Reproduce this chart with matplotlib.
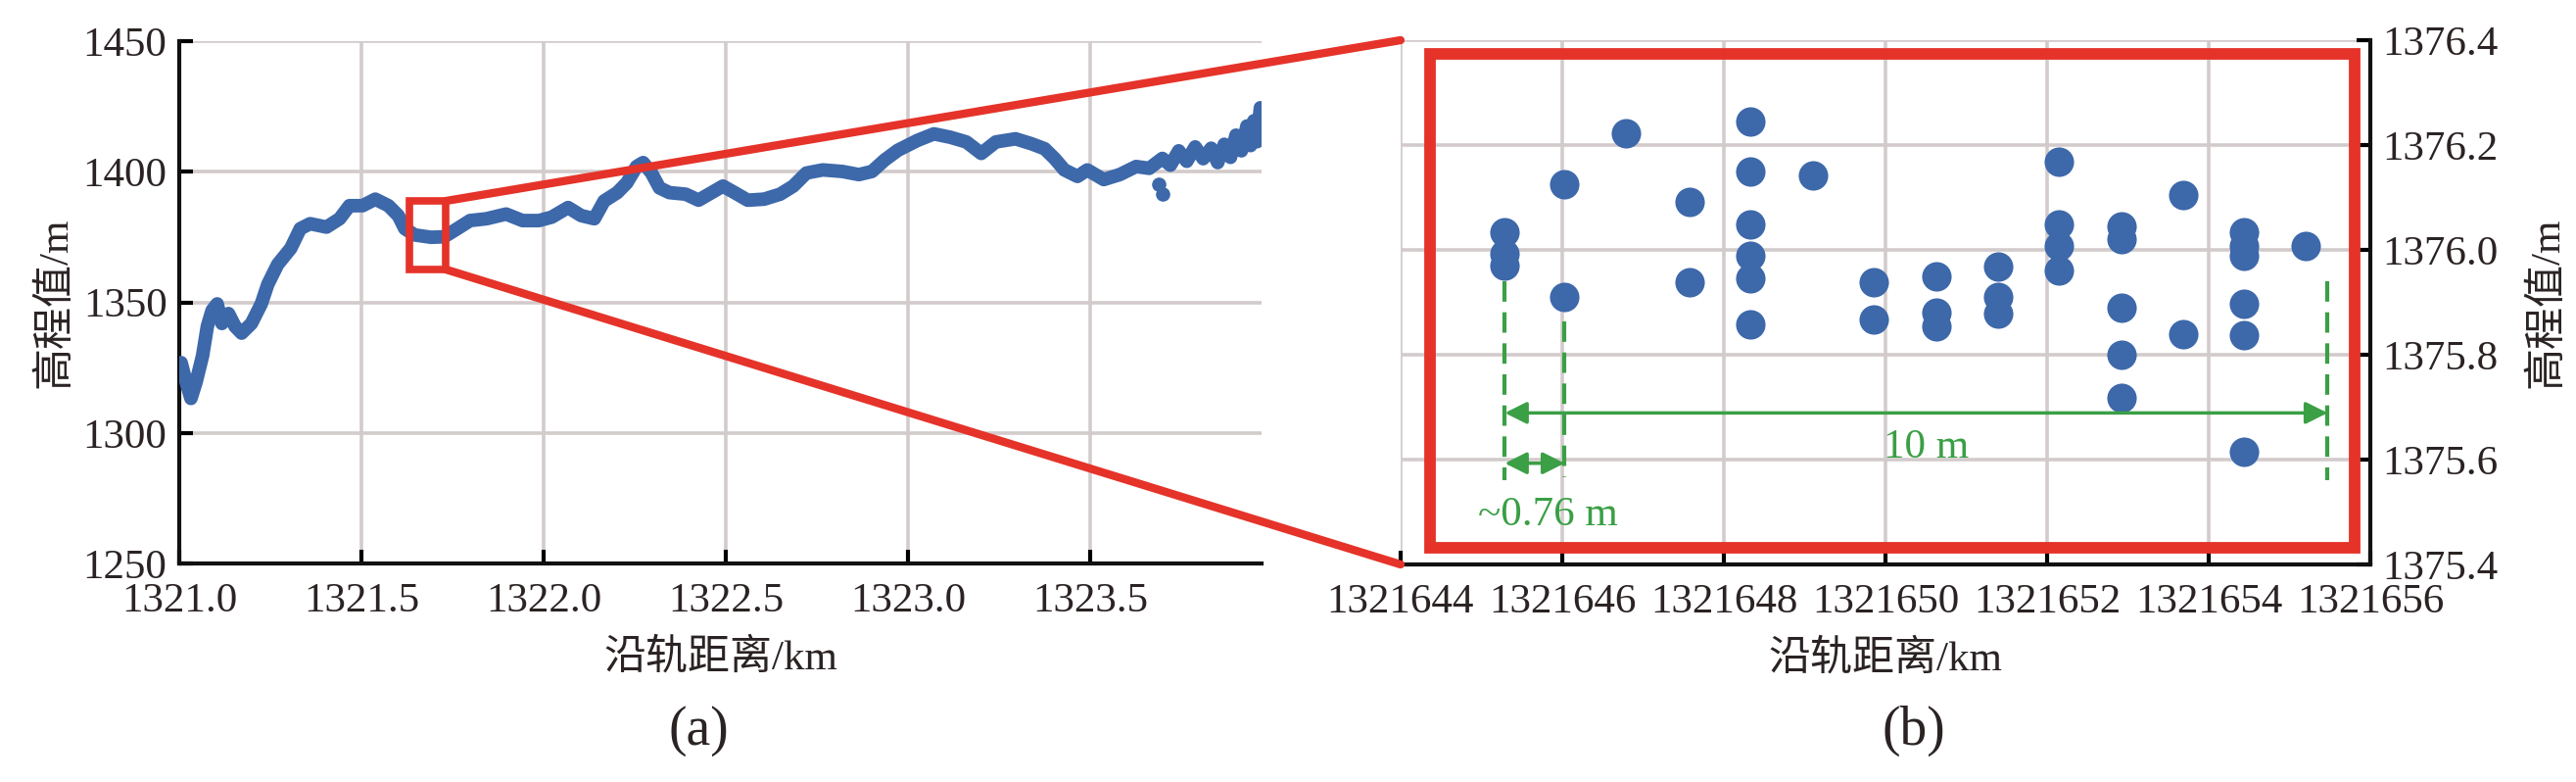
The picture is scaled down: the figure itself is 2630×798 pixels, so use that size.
import matplotlib
matplotlib.use("Agg")
import matplotlib.pyplot as plt
from matplotlib.patches import Rectangle, ConnectionPatch
from matplotlib.ticker import FormatStrFormatter

# ── Data ────────────────────────────────────────────────────────────────────────
# (a) along-track profile
dist_km = [
    1321.005, 1321.019, 1321.032, 1321.046, 1321.064, 1321.077, 1321.090, 1321.104, 1321.117, 1321.135,
    1321.153, 1321.171, 1321.198, 1321.225, 1321.243, 1321.270, 1321.306, 1321.332, 1321.359, 1321.404,
    1321.440, 1321.467, 1321.503, 1321.538, 1321.574, 1321.601, 1321.619, 1321.646, 1321.691, 1321.727,
    1321.763, 1321.798, 1321.843, 1321.897, 1321.942, 1321.987, 1322.022, 1322.067, 1322.103, 1322.139,
    1322.166, 1322.202, 1322.228, 1322.255, 1322.273, 1322.296, 1322.318, 1322.345, 1322.390, 1322.425,
    1322.461, 1322.492, 1322.524, 1322.560, 1322.605, 1322.649, 1322.685, 1322.721, 1322.766, 1322.820,
    1322.865, 1322.901, 1322.936, 1322.972, 1322.999, 1323.026, 1323.071, 1323.116, 1323.160, 1323.201,
    1323.241, 1323.295, 1323.339, 1323.375, 1323.402, 1323.429, 1323.465, 1323.492, 1323.537, 1323.581,
    1323.626, 1323.662, 1323.698, 1323.720, 1323.743, 1323.765, 1323.788, 1323.810, 1323.832, 1323.850,
    1323.868, 1323.885, 1323.900, 1323.915, 1323.930, 1323.940, 1323.949, 1323.958, 1323.967,
]
elev_m = [
    1326.9, 1319.4, 1313.2, 1319.4, 1329.6, 1340.8, 1346.9, 1349.4, 1341.9, 1345.7,
    1340.8, 1338.2, 1341.9, 1349.4, 1356.9, 1364.5, 1370.7, 1378.2, 1380.1, 1378.8,
    1382.0, 1387.0, 1387.0, 1389.5, 1387.0, 1383.2, 1378.2, 1375.8, 1374.9, 1375.1,
    1378.2, 1381.3, 1382.0, 1383.8, 1381.3, 1381.3, 1382.6, 1386.3, 1383.2, 1382.0,
    1388.8, 1392.0, 1395.7, 1402.0, 1403.5, 1399.5, 1393.8, 1392.0, 1391.4, 1389.1,
    1392.0, 1394.5, 1392.0, 1389.1, 1389.5, 1391.4, 1394.5, 1399.5, 1400.7, 1400.1,
    1398.9, 1400.1, 1404.5, 1408.2, 1410.1, 1412.0, 1414.5, 1413.2, 1411.4, 1407.0,
    1411.4, 1412.6, 1410.7, 1408.8, 1405.1, 1400.7, 1398.2, 1400.7, 1397.0, 1398.9,
    1402.0, 1401.3, 1405.1, 1402.5, 1408.0, 1404.0, 1409.5, 1405.0, 1409.0, 1403.5,
    1410.5, 1405.5, 1414.0, 1408.0, 1417.5, 1410.0, 1419.5, 1411.5, 1424.5,
]
outlier_km = [1323.688, 1323.698]
outlier_m = [1395.1, 1391.4]

# (b) zoomed footprints (along-track position in m, height in m)
track_m = [
    1321645.29, 1321645.29, 1321645.29,
    1321646.03, 1321646.03,
    1321646.79,
    1321647.57, 1321647.57,
    1321648.33, 1321648.33, 1321648.33, 1321648.33, 1321648.33, 1321648.33,
    1321649.10,
    1321649.86, 1321649.86,
    1321650.63, 1321650.63, 1321650.63,
    1321651.39, 1321651.39, 1321651.39,
    1321652.15, 1321652.15, 1321652.15, 1321652.15,
    1321652.92, 1321652.92, 1321652.92, 1321652.92, 1321652.92,
    1321653.68, 1321653.68,
    1321654.44, 1321654.44, 1321654.44, 1321654.44, 1321654.44, 1321654.44,
    1321655.20,
]
height_m = [
    1376.033, 1375.992, 1375.971,
    1376.125, 1375.911,
    1376.222,
    1376.091, 1375.939,
    1376.244, 1376.149, 1376.048, 1375.988, 1375.945, 1375.858,
    1376.142,
    1375.938, 1375.868,
    1375.949, 1375.881, 1375.855,
    1375.969, 1375.911, 1375.879,
    1376.168, 1376.048, 1376.007, 1375.961,
    1376.044, 1376.020, 1375.889, 1375.800, 1375.718,
    1376.104, 1375.840,
    1376.034, 1376.007, 1375.988, 1375.898, 1375.838, 1375.615,
    1376.008,
]

x_ticks_a = [1321.0, 1321.5, 1322.0, 1322.5, 1323.0, 1323.5]
y_ticks_a = [1250, 1300, 1350, 1400, 1450]
x_ticks_b = [1321644, 1321646, 1321648, 1321650, 1321652, 1321654, 1321656]
y_ticks_b = [1375.4, 1375.6, 1375.8, 1376.0, 1376.2, 1376.4]

BLUE = "#3d68aa"
RED = "#e5332a"
GREEN = "#3a9f45"
GRID = "#d3cbcb"
INK = "#2b2323"

plt.rcParams['font.family'] = ['Liberation Serif', 'Noto Sans CJK SC']

fig = plt.figure(figsize=(26.3, 7.98), dpi=100)
ax1 = fig.add_axes([0.0696, 0.2794, 0.4201, 0.668])
ax2 = fig.add_axes([0.5437, 0.2782, 0.3765, 0.6704])


def style_axes(ax, hide):
    for s in hide:
        ax.spines[s].set_visible(False)
    for s in ax.spines.values():
        s.set_linewidth(3)
        s.set_color("#111111")
    ax.grid(True, color=GRID, lw=2.6)
    ax.set_axisbelow(True)
    ax.tick_params(direction="in", length=10, width=3, labelsize=31,
                   labelcolor=INK)
    ax.tick_params(axis="x", pad=14)
    ax.tick_params(axis="y", pad=9)


# ── (a) ────────────────────────────────────────────────────────────────────────
style_axes(ax1, ["top", "right"])
ax1.plot(dist_km, elev_m, color=BLUE, lw=10, solid_joinstyle="round",
         solid_capstyle="round", zorder=3)
ax1.scatter(outlier_km, outlier_m, s=90, color=BLUE, zorder=3)
ax1.set_xlim(1321.0, 1323.97)
ax1.set_ylim(1250, 1450)
ax1.set_xticks(x_ticks_a)
ax1.set_yticks(y_ticks_a)
ax1.xaxis.set_major_formatter(FormatStrFormatter("%.1f"))
ax1.set_xlabel("沿轨距离/km", fontsize=31, color=INK, labelpad=14)
ax1.set_ylabel("高程值/m", fontsize=31, color=INK, labelpad=6)
ax1.add_patch(Rectangle((1321.632, 1362.6), 0.099, 26.2, fill=False,
                        ec=RED, lw=5.5, zorder=4, clip_on=False))

# ── (b) ────────────────────────────────────────────────────────────────────────
style_axes(ax2, ["top", "left"])
ax2.yaxis.tick_right()
ax2.yaxis.set_label_position("right")
ax2.scatter(track_m, height_m, s=470, color=BLUE, zorder=3, linewidths=0)
ax2.set_xlim(1321644, 1321656)
ax2.set_ylim(1375.4, 1376.4)
ax2.set_xticks(x_ticks_b)
ax2.set_yticks(y_ticks_b)
ax2.xaxis.set_major_formatter(FormatStrFormatter("%d"))
ax2.yaxis.set_major_formatter(FormatStrFormatter("%.1f"))
ax2.set_xlabel("沿轨距离/km", fontsize=31, color=INK, labelpad=14)
ax2.set_ylabel("高程值/m", fontsize=31, color=INK, labelpad=22)
ax2.add_patch(Rectangle((1321644.36, 1375.432), 11.45, 0.942, fill=False,
                        ec=RED, lw=8.5, zorder=2, clip_on=False))

# green spacing annotations
dash = (0, (5, 2.6))
ax2.plot([1321645.29, 1321645.29], [1375.94, 1375.56], ls=dash, lw=3, color=GREEN, zorder=4)
ax2.plot([1321646.03, 1321646.03], [1375.863, 1375.567], ls=dash, lw=3, color=GREEN, zorder=4)
ax2.plot([1321655.47, 1321655.47], [1375.94, 1375.56], ls=dash, lw=3, color=GREEN, zorder=4)
arrow = dict(arrowstyle="<|-|>", color=GREEN, lw=2.5, mutation_scale=34,
             shrinkA=0, shrinkB=0)
ax2.annotate("", xy=(1321645.29, 1375.689), xytext=(1321655.47, 1375.689),
             arrowprops=arrow, zorder=4)
ax2.annotate("", xy=(1321645.29, 1375.593), xytext=(1321646.03, 1375.593),
             arrowprops=arrow, zorder=4)
ax2.text(1321650.5, 1375.622, "10 m", color=GREEN, fontsize=31,
         ha="center", va="center")
ax2.text(1321645.82, 1375.493, "~0.76 m", color=GREEN, fontsize=31,
         ha="center", va="center")

# zoom connectors
for ya, yb in [(1388.8, 1), (1362.6, 0)]:
    con = ConnectionPatch(xyA=(1321.731, ya), coordsA=ax1.transData,
                          xyB=(0, yb), coordsB=ax2.transAxes,
                          color=RED, lw=6, zorder=5)
    fig.add_artist(con)

fig.text(713 / 2630, 1 - 746 / 798, "(a)", fontsize=40, color=INK,
         ha="center", va="center")
fig.text(1954 / 2630, 1 - 746 / 798, "(b)", fontsize=40, color=INK,
         ha="center", va="center")

fig.savefig("out.png", dpi=100)
